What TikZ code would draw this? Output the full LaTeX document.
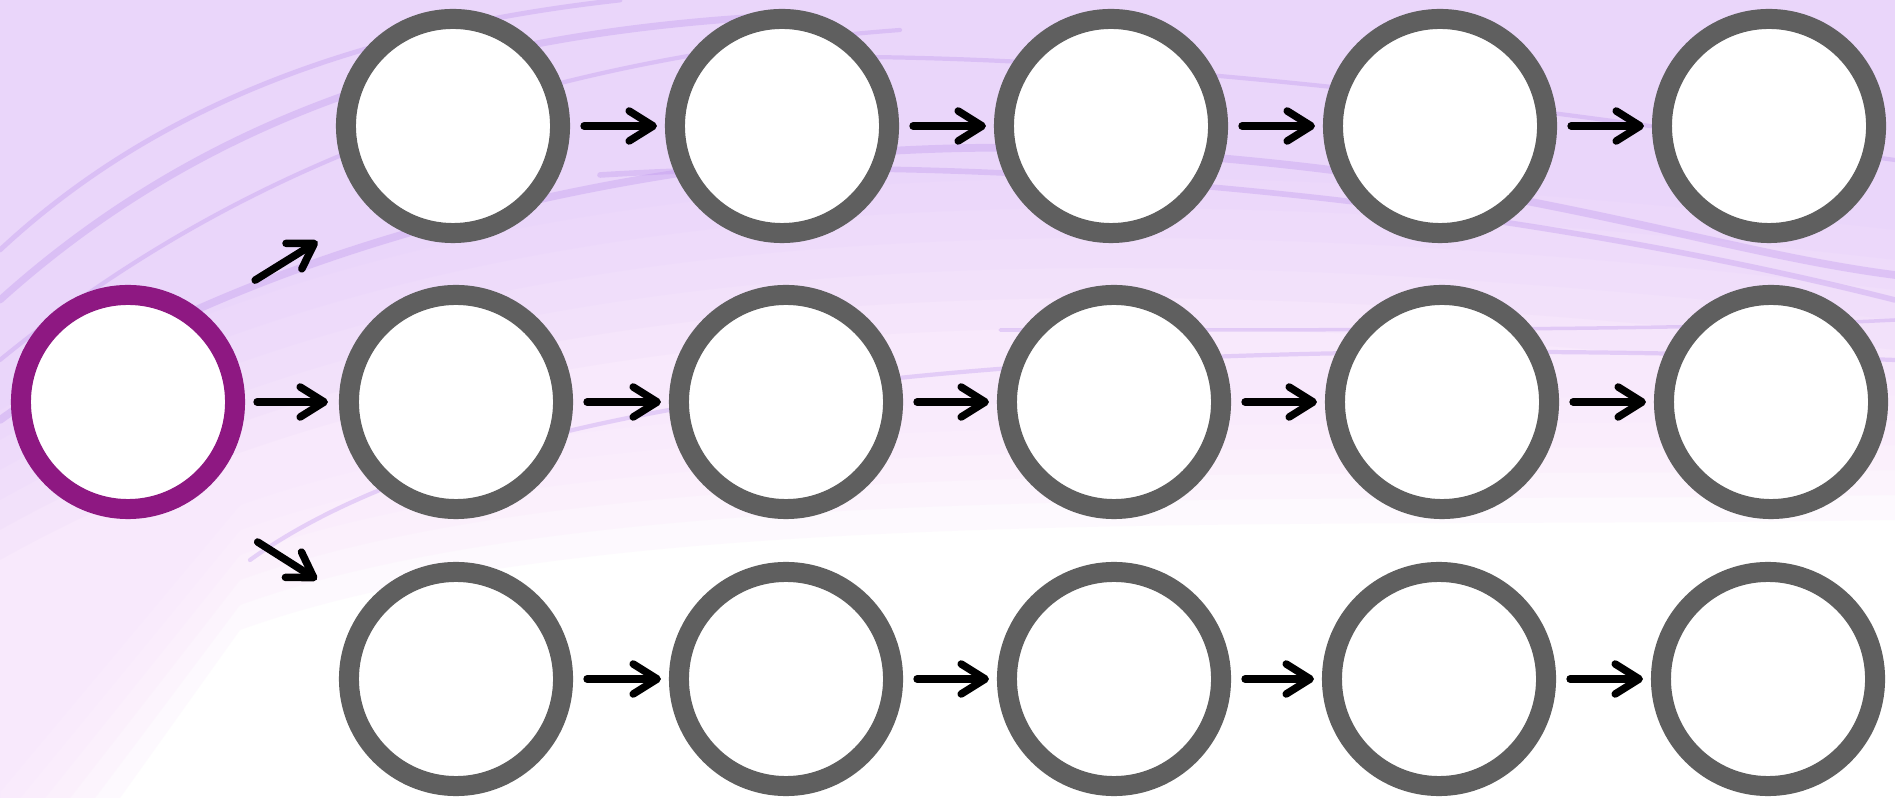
\documentclass[tikz,border=0pt]{standalone}
\usepackage{xcolor}
\usepackage{tikz}
\usetikzlibrary{arrows.meta,positioning,calc}
\definecolor{ringgray}{RGB}{95,95,95}
\definecolor{plum}{RGB}{142,24,130}
\definecolor{haze}{RGB}{226,200,250}
\definecolor{blush}{RGB}{248,228,252}
\definecolor{streak}{RGB}{190,150,238}
\tikzset{
  ring/.style ={circle,draw=ringgray,line width=0.2cm,fill=white,minimum size=2.14cm,inner sep=0pt},
  seed/.style ={ring,draw=plum},
  flow/.style ={-{Straight Barb[length=0.24cm,width=0.3cm,round]},line width=0.075cm,line cap=round,black},
  wisp/.style ={draw=streak,line cap=round,opacity=0.35},
}
\begin{document}
\begin{tikzpicture}[x=0.01cm,y=-0.01cm]
  \useasboundingbox (0,0) rectangle (1895,798);
  % background wash, built up in soft layers
  \fill[white] (0,0) rectangle (1895,798);
  \foreach \d in {0,25,...,125}
     \fill[blush,opacity=0.2] (0,0) -- (1895,0) -- (1895,520-\d)
        .. controls (1300,530-\d) and (600,500-\d) .. (240,630-\d) -- (120-\d,798) -- (0,798) -- cycle;
  \foreach \d in {0,30,...,150}
     \fill[haze,opacity=0.11] (0,0) -- (1895,0) -- (1895,380-\d)
        .. controls (1200,300-\d) and (500,280-\d) .. (0,560-\d) -- cycle;
  % streaks
  \draw[wisp,line width=2pt] (0,300) .. controls (200,120) and (450,30) .. (800,15);
  \draw[wisp,line width=1.4pt] (0,250) .. controls (150,110) and (350,30) .. (620,0);
  \draw[wisp,line width=1.2pt] (0,360) .. controls (220,180) and (500,60) .. (900,30);
  \draw[wisp,line width=2.2pt] (0,420) .. controls (250,240) and (700,130) .. (1100,150)
     .. controls (1500,170) and (1700,250) .. (1895,275);
  \draw[wisp,line width=1.6pt] (600,175) .. controls (1000,150) and (1500,200) .. (1895,300);
  \draw[wisp,line width=1.2pt] (700,60) .. controls (1100,40) and (1600,120) .. (1895,160);
  \draw[wisp,line width=1.2pt] (250,560) .. controls (500,380) and (1100,330) .. (1895,360);
  \draw[wisp,line width=1pt] (1000,330) .. controls (1400,330) and (1700,330) .. (1895,320);

  % first node and the three rows
  \node[seed] (s) at (128,402) {};
  \foreach \x/\n in {453/1,782/2,1111/3,1440/4,1769/5}
     \node[ring] (a\n) at (\x,126) {};
  \foreach \x/\n in {456/1,786/2,1114/3,1442/4,1771/5}
     \node[ring] (b\n) at (\x,402) {};
  \foreach \x/\n in {456/1,786/2,1114/3,1439/4,1768/5}
     \node[ring] (c\n) at (\x,679) {};

  % fan out
  \draw[flow,shorten <=0.61cm,shorten >=0.62cm] (s.50) -- (a1.-135);
  \draw[flow,shorten <=0.12cm,shorten >=0.11cm] (s) -- (b1);
  \draw[flow,shorten <=0.78cm,shorten >=0.54cm] (s.-57) -- (c1.143);
  % chains
  \foreach \r in {a,b,c}
     \foreach \i/\j in {1/2,2/3,3/4,4/5}
        \draw[flow,shorten <=0.14cm,shorten >=0.08cm] (\r\i) -- (\r\j);
\end{tikzpicture}
\end{document}
